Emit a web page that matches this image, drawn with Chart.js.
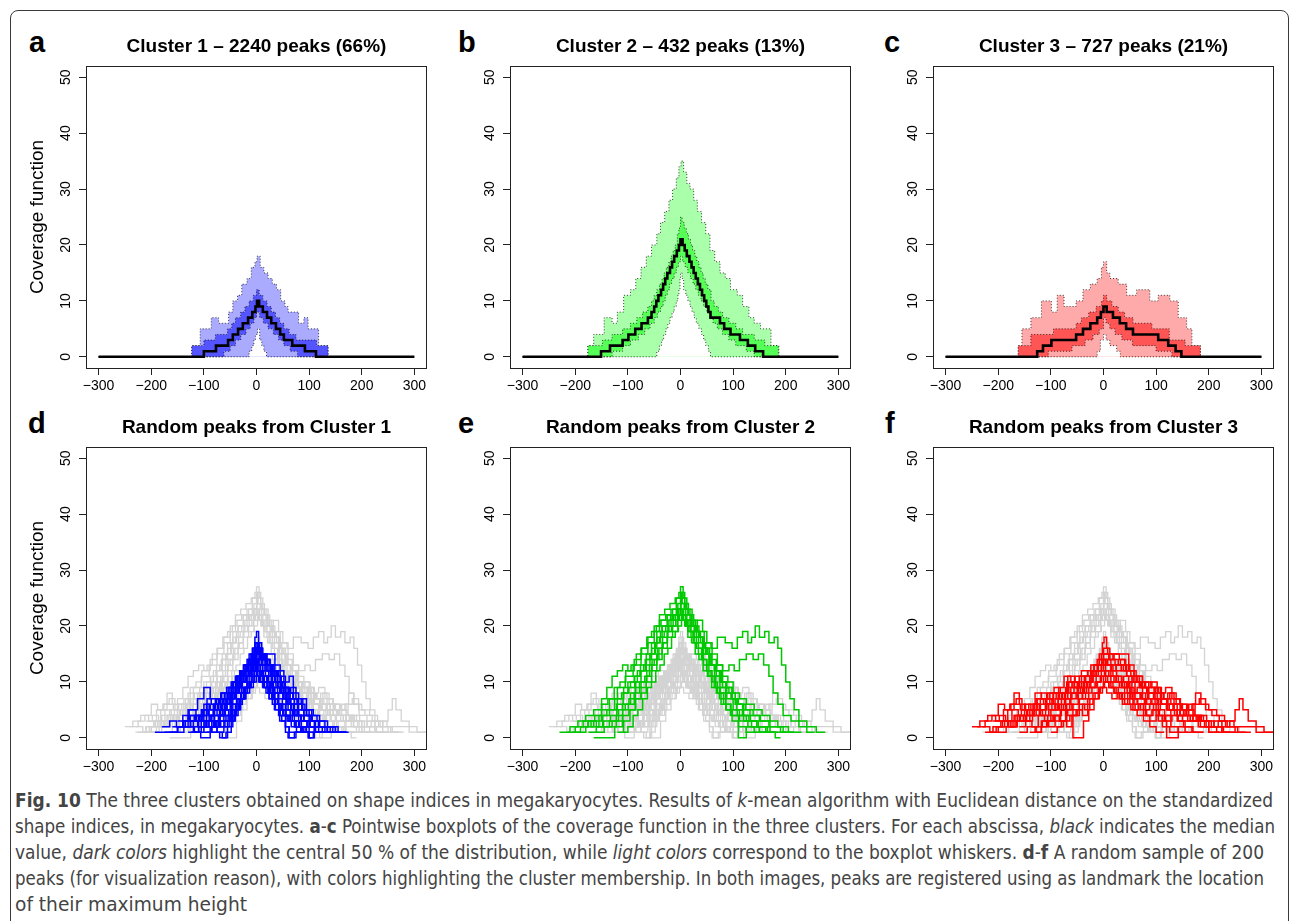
<!DOCTYPE html>
<html>
<head>
<meta charset="utf-8">
<script src="https://cdn.jsdelivr.net/npm/chart.js@4.4.1/dist/chart.umd.min.js"></script>
<style>
body { margin: 0; background: #fff; width: 1290px; height: 921px; overflow: hidden; position: relative; font-family: "Liberation Sans", Arial, sans-serif; }
#frame { position: absolute; left: 10px; top: 10px; width: 1277px; height: 980px; border: 1px solid #3a3a3a; border-radius: 8px; }
canvas { position: absolute; }
.letter { position: absolute; font-weight: bold; font-size: 29px; line-height: 29px; color: #000; }
#caption { position: absolute; left: 15px; top: 787px; font-family: "Liberation Sans Narrow", "DejaVu Sans Condensed", sans-serif; font-size: 20px; line-height: 26px; color: #444; }
.cl { display: block; white-space: nowrap; transform-origin: 0 0; width: max-content; }
</style>
</head>
<body>
<div id="frame"></div>

<div class="letter" style="left:29px;top:28px">a</div>
<div class="letter" style="left:458px;top:28px">b</div>
<div class="letter" style="left:884px;top:28px">c</div>
<div class="letter" style="left:28px;top:409px">d</div>
<div class="letter" style="left:458px;top:409px">e</div>
<div class="letter" style="left:885px;top:409px">f</div>

<div id="caption">
<span class="cl"><b>Fig. 10</b> The three clusters obtained on shape indices in megakaryocytes. Results of <i>k</i>-mean algorithm with Euclidean distance on the standardized</span>
<span class="cl">shape indices, in megakaryocytes. <b>a</b>-<b>c</b> Pointwise boxplots of the coverage function in the three clusters. For each abscissa, <i>black</i> indicates the median</span>
<span class="cl">value, <i>dark colors</i> highlight the central 50 % of the distribution, while <i>light colors</i> correspond to the boxplot whiskers. <b>d</b>-<b>f</b> A random sample of 200</span>
<span class="cl">peaks (for visualization reason), with colors highlighting the cluster membership. In both images, peaks are registered using as landmark the location</span>
<span class="cl">of their maximum height</span>
</div>

<script>
// TICKS / TITLES
const xTicks = [-300, -200, -100, 0, 100, 200, 300];
const xTickLabels = ["\u2212300", "\u2212200", "\u2212100", "0", "100", "200", "300"];
const yTicks = [0, 10, 20, 30, 40, 50];
const topTitles = ["Cluster 1 \u2013 2240 peaks (66%)", "Cluster 2 \u2013 432 peaks (13%)", "Cluster 3 \u2013 727 peaks (21%)"];
const bottomTitles = ["Random peaks from Cluster 1", "Random peaks from Cluster 2", "Random peaks from Cluster 3"];
const yTitle = "Coverage function";

// POINTWISE BOXPLOTS  [x where the step starts, value]
const aUpper = [[-300,0],[-123,2],[-107,5],[-86,7],[-72,6],[-53,8],[-45,10],[-36,11],[-28,13],[-18,14],[-10,16],[-3,17],[1,18],[7,16],[14,15],[22,14],[30,13],[38,12],[46,10],[54,9],[60,8],[80,6],[90,7],[98,5],[118,2],[136,0],[300,0]];
const aQ3 = [[-300,0],[-123,2],[-100,3],[-78,4],[-55,5],[-47,6],[-40,7],[-30,8],[-22,9],[-14,10],[-6,11],[0,12],[5,11],[12,10],[20,9],[28,8],[36,7],[44,6],[52,5],[62,4],[75,3],[114,2],[136,0],[300,0]];
const aQ1 = [[-300,0],[-62,1],[-50,2],[-40,3],[-30,4],[-20,5],[-12,6],[-5,7],[0,8],[6,7],[13,6],[22,5],[32,4],[42,3],[52,2],[64,1],[78,0],[300,0]];
const aLower = [[-300,0],[-14,1],[-9,2],[-5,3],[-2,4],[2,5],[6,3],[10,2],[14,1],[19,0],[300,0]];
const aMedian = [[-300,0],[-100,1],[-77,2],[-54,3],[-45,4],[-35,5],[-26,6],[-16,7],[-8,8],[-2,9],[1,10],[5,9],[12,8],[20,7],[28,6],[37,5],[45,4],[52,3],[68,2],[92,1],[113,0],[300,0]];

const bUpper = [[-300,0],[-176,2],[-165,4],[-145,7],[-130,6],[-120,8],[-108,11],[-95,12],[-85,14],[-75,16],[-65,18],[-55,20],[-45,22],[-38,24],[-30,26],[-22,28],[-15,30],[-8,32],[-3,34],[1,35],[6,33],[12,31],[18,30],[25,28],[32,26],[40,24],[48,22],[56,19],[65,17],[75,15],[85,14],[95,12],[108,11],[118,9],[130,7],[140,6],[152,5],[172,2],[187,0],[300,0]];
const bQ3 = [[-300,0],[-176,2],[-148,3],[-130,4],[-110,5],[-95,6],[-83,7],[-72,8],[-62,9],[-55,10],[-50,11],[-45,12],[-40,13],[-35,14],[-31,15],[-27,16],[-22,17],[-18,18],[-14,19],[-10,20],[-6,22],[-3,23],[0,25],[3,24],[7,23],[11,22],[15,21],[19,20],[23,19],[27,18],[31,17],[35,16],[39,15],[43,14],[47,13],[52,12],[58,10],[64,9],[72,8],[80,7],[92,6],[105,5],[118,4],[140,3],[160,2],[186,0],[300,0]];
const bQ1 = [[-300,0],[-130,1],[-110,2],[-95,3],[-80,4],[-68,5],[-58,6],[-50,7],[-44,8],[-38,9],[-33,10],[-29,11],[-25,12],[-21,13],[-17,14],[-12,15],[-8,16],[-4,17],[0,18],[4,17],[9,16],[14,15],[19,14],[24,13],[29,12],[34,11],[39,10],[44,9],[50,8],[56,7],[62,6],[70,5],[80,4],[92,3],[105,2],[125,1],[140,0],[300,0]];
const bLower = [[-300,0],[-45,1],[-40,2],[-36,3],[-32,4],[-28,5],[-24,6],[-20,7],[-16,8],[-12,9],[-8,10],[-5,11],[-3,12],[-1,14],[0,15],[3,14],[6,12],[10,11],[14,10],[18,9],[22,8],[26,7],[30,6],[35,5],[40,4],[44,3],[48,2],[53,1],[57,0],[300,0]];
const bMedian = [[-300,0],[-151,1],[-134,2],[-110,3],[-99,4],[-86,5],[-74,6],[-62,7],[-55,8],[-50,9],[-46,10],[-42,11],[-37,12],[-33,13],[-29,14],[-25,15],[-20,16],[-16,17],[-12,18],[-7,19],[-3,20],[0,21],[4,20],[8,19],[12,18],[17,17],[21,16],[25,15],[29,14],[33,13],[37,12],[41,11],[45,10],[49,9],[53,8],[57,7],[75,6],[83,5],[95,4],[113,3],[128,2],[142,1],[157,0],[300,0]];

const cUpper = [[-300,0],[-162,2],[-155,5],[-138,7],[-118,10],[-99,8],[-88,11],[-75,9],[-52,10],[-39,12],[-25,13],[-12,14],[-4,16],[0,17],[6,15],[12,14],[28,13],[44,11],[63,12],[88,10],[104,11],[126,10],[142,7],[158,5],[168,2],[184,0],[300,0]];
const cQ3 = [[-300,0],[-162,2],[-138,4],[-95,5],[-52,6],[-42,7],[-28,8],[-14,9],[-4,10],[0,11],[6,10],[16,9],[28,8],[40,7],[56,6],[92,5],[125,3],[155,2],[184,0],[300,0]];
const cQ1 = [[-300,0],[-105,1],[-60,2],[-35,3],[-20,4],[-8,5],[0,7],[5,6],[12,5],[22,4],[35,3],[55,2],[100,1],[130,0],[300,0]];
const cLower = [[-300,0],[-12,1],[-6,3],[0,4],[5,3],[12,2],[25,1],[32,0],[300,0]];
const cMedian = [[-300,0],[-126,1],[-115,2],[-99,3],[-52,4],[-39,5],[-25,6],[-12,7],[-5,8],[0,9],[6,8],[18,7],[31,6],[43,5],[56,4],[104,3],[123,2],[137,1],[148,0],[300,0]];

// RANDOM PEAKS (same sample in d, e, f)
const cluster1Peaks = [
  [[-193,1],[-150,2],[-140,3],[-120,2],[-105,4],[-95,6],[-88,5],[-75,4],[-60,6],[-45,8],[-35,10],[-25,12],[-15,14],[-8,16],[-3,18],[0,19],[4,17],[10,15],[18,13],[28,11],[40,9],[52,7],[65,5],[80,3],[100,2],[130,1],[175,1]],
  [[-150,3],[-130,5],[-112,7],[-100,9],[-88,7],[-72,5],[-60,7],[-48,9],[-38,11],[-28,12],[-18,13],[-10,15],[-2,17],[3,15],[12,13],[22,12],[35,10],[48,8],[58,6],[72,4],[90,3],[110,2],[140,1],[165,1]],
  [[-130,1],[-110,2],[-90,3],[-75,1],[-65,0],[-55,2],[-45,4],[-35,7],[-25,9],[-18,11],[-10,13],[-4,15],[30,15],[35,13],[45,11],[55,9],[62,6],[70,4],[85,2],[100,0],[108,1],[130,1]],
  [[-140,2],[-125,3],[-108,4],[-95,3],[-80,5],[-68,6],[-55,8],[-45,10],[-35,11],[-25,13],[-15,14],[-5,16],[2,15],[10,14],[20,12],[30,11],[42,12],[52,10],[62,11],[70,8],[80,6],[92,5],[105,3],[118,2],[150,1],[170,1]],
  [[-120,1],[-100,2],[-85,1],[-70,0],[-58,1],[-48,3],[-40,5],[-30,7],[-22,9],[-14,11],[-7,12],[0,13],[7,11],[15,10],[25,8],[35,6],[45,4],[55,2],[62,0],[72,1],[90,2],[110,1],[140,1]],
  [[-175,1],[-150,2],[-135,3],[-118,4],[-100,3],[-85,4],[-70,5],[-58,6],[-48,8],[-38,9],[-28,11],[-18,12],[-8,14],[0,16],[8,14],[18,12],[28,10],[40,9],[52,7],[65,6],[78,5],[90,4],[102,3],[120,2],[150,1],[172,1]],
  [[-110,2],[-95,3],[-82,2],[-70,4],[-60,5],[-50,7],[-42,8],[-32,10],[-22,12],[-12,13],[-5,14],[2,12],[12,11],[22,10],[32,8],[42,6],[55,5],[68,3],[80,2],[95,1],[120,1]],
  [[-160,2],[-140,3],[-128,5],[-115,4],[-100,6],[-90,5],[-78,7],[-65,6],[-52,8],[-40,9],[-30,11],[-20,13],[-10,15],[-3,17],[3,16],[10,15],[20,13],[30,12],[40,10],[50,9],[60,7],[72,6],[85,7],[95,5],[108,4],[120,3],[135,2],[155,1],[170,1]],
  [[-90,1],[-75,2],[-60,3],[-50,5],[-40,6],[-30,8],[-20,9],[-12,10],[-4,11],[4,10],[14,9],[24,7],[34,5],[44,3],[55,1],[60,0],[68,0],[75,1],[95,1]],
  [[-145,2],[-130,4],[-118,3],[-105,5],[-92,4],[-80,6],[-68,8],[-58,7],[-48,9],[-38,10],[-28,12],[-18,14],[-10,15],[-2,16],[5,15],[15,14],[25,13],[35,11],[45,9],[55,8],[65,9],[75,7],[88,5],[100,4],[115,3],[130,2],[145,1],[160,1]],
  [[-100,1],[-85,2],[-72,3],[-62,4],[-52,3],[-42,5],[-32,7],[-22,9],[-12,10],[-4,12],[2,11],[12,10],[22,8],[32,7],[42,5],[52,4],[62,3],[75,2],[88,1],[100,0],[110,1],[125,1]],
  [[-125,1],[-110,3],[-98,2],[-85,3],[-72,4],[-60,6],[-50,7],[-40,9],[-30,10],[-20,11],[-10,12],[-2,14],[4,13],[12,11],[20,10],[30,9],[40,8],[50,7],[60,5],[72,4],[84,3],[96,2],[112,1],[140,1]],
  [[-80,2],[-68,3],[-58,4],[-48,6],[-38,8],[-28,9],[-18,11],[-10,12],[-3,14],[3,12],[10,11],[20,9],[30,7],[40,6],[50,4],[60,3],[72,2],[85,1],[100,1]],
  [[-135,2],[-120,1],[-105,2],[-92,3],[-80,4],[-68,5],[-56,7],[-45,8],[-35,10],[-25,11],[-15,13],[-6,14],[0,15],[6,14],[16,13],[26,11],[36,10],[46,8],[56,6],[66,5],[78,4],[90,3],[102,2],[118,1],[135,1]],
  [[-150,1],[-138,2],[-126,3],[-112,2],[-100,3],[-90,4],[-82,6],[-74,5],[-66,6],[-58,7],[-50,8],[-43,9],[-36,10],[-29,11],[-22,12],[-15,13],[-8,14],[-2,15],[3,14],[9,13],[16,12],[23,11],[30,10],[37,9],[44,8],[51,7],[58,6],[66,5],[75,4],[85,3],[96,2],[110,1],[128,1]],
  [[-70,1],[-62,2],[-55,3],[-48,4],[-41,5],[-34,6],[-27,7],[-20,8],[-13,9],[-6,10],[0,11],[6,10],[12,9],[18,8],[24,7],[30,6],[36,5],[42,4],[48,3],[55,2],[62,1],[78,1]],
  [[-180,2],[-165,3],[-152,2],[-140,4],[-128,3],[-116,4],[-104,5],[-94,7],[-86,6],[-76,7],[-66,8],[-57,9],[-48,10],[-40,11],[-32,12],[-24,13],[-16,14],[-9,15],[-3,16],[2,17],[6,16],[12,15],[19,14],[26,13],[33,12],[40,11],[47,10],[54,9],[62,8],[70,7],[78,6],[86,5],[95,4],[105,3],[118,2],[135,1],[160,1]],
  [[-105,2],[-96,3],[-88,4],[-80,3],[-72,4],[-64,5],[-56,6],[-48,7],[-41,8],[-34,9],[-27,10],[-20,11],[-13,12],[-6,13],[0,14],[5,13],[11,12],[17,11],[23,10],[29,9],[35,8],[42,7],[49,6],[56,5],[64,4],[72,3],[82,2],[94,1],[108,1]],
  [[-130,2],[-118,1],[-106,0],[-96,0],[-88,2],[-80,3],[-72,4],[-64,6],[-56,7],[-48,8],[-40,10],[-32,11],[-25,12],[-18,13],[-11,14],[-4,15],[2,16],[7,15],[13,14],[20,13],[27,12],[34,10],[41,9],[48,8],[56,7],[64,6],[72,5],[80,4],[90,3],[100,2],[112,1],[130,1]],
  [[-60,2],[-52,3],[-45,4],[-38,6],[-31,7],[-24,8],[-17,9],[-10,10],[-4,12],[2,11],[8,10],[15,9],[22,8],[29,7],[36,6],[43,5],[50,4],[58,3],[66,2],[76,1],[90,1]],
  [[-165,1],[-150,2],[-138,3],[-126,4],[-114,3],[-102,5],[-92,4],[-82,5],[-72,6],[-63,7],[-54,9],[-46,10],[-38,11],[-30,12],[-22,13],[-14,15],[-7,16],[-1,17],[4,16],[10,15],[17,14],[24,13],[31,12],[38,11],[45,10],[53,9],[61,8],[69,7],[77,6],[86,5],[95,4],[106,3],[118,2],[134,1],[150,1]],
  [[-95,1],[-86,2],[-78,3],[-70,2],[-62,3],[-54,4],[-46,5],[-38,6],[-31,7],[-24,9],[-17,10],[-10,11],[-4,12],[2,13],[7,12],[13,11],[20,10],[27,9],[34,8],[41,6],[48,5],[56,4],[65,3],[75,2],[86,1],[98,0],[104,0]],
  [[-120,3],[-110,4],[-100,5],[-90,4],[-80,6],[-70,7],[-61,8],[-52,9],[-44,10],[-36,11],[-28,12],[-20,13],[-12,14],[-5,15],[1,16],[6,15],[12,14],[19,13],[26,12],[33,11],[40,10],[48,9],[56,8],[64,7],[72,6],[80,5],[90,4],[100,3],[112,2],[125,1],[142,1]],
  [[-85,2],[-77,3],[-69,4],[-61,5],[-53,4],[-45,6],[-37,7],[-29,8],[-21,9],[-14,10],[-7,11],[0,12],[6,11],[13,10],[20,9],[27,8],[34,7],[41,6],[48,5],[56,4],[64,3],[73,2],[84,1],[96,1]]
];
const cluster2Peaks = [
  [[-200,1],[-180,2],[-165,3],[-150,5],[-135,7],[-120,9],[-105,11],[-90,13],[-75,15],[-62,17],[-50,19],[-40,21],[-28,22],[-18,23],[-8,25],[0,27],[5,25],[12,23],[22,21],[32,19],[45,17],[58,16],[70,18],[85,17],[98,16],[108,18],[118,19],[128,17],[135,18],[142,20],[150,18],[160,19],[168,17],[178,18],[185,16],[192,13],[200,10],[208,7],[216,5],[225,3],[240,2],[258,1],[275,1]],
  [[-230,1],[-210,2],[-195,3],[-180,4],[-165,5],[-150,7],[-140,9],[-130,11],[-120,12],[-110,13],[-100,12],[-88,14],[-75,16],[-62,18],[-50,20],[-40,22],[-30,23],[-20,24],[-10,25],[-3,26],[3,24],[10,22],[20,20],[30,18],[42,16],[55,14],[68,13],[80,12],[92,13],[102,12],[112,14],[125,15],[138,14],[148,15],[158,13],[168,11],[176,8],[185,6],[195,4],[210,3],[225,2],[240,1],[255,1]],
  [[-160,1],[-145,2],[-130,3],[-118,5],[-105,6],[-95,8],[-85,10],[-75,12],[-65,14],[-55,16],[-45,18],[-35,20],[-25,22],[-15,23],[-5,24],[2,26],[8,24],[15,22],[25,20],[35,18],[45,16],[55,13],[65,11],[75,9],[88,7],[100,5],[112,4],[125,3],[145,2],[170,1],[200,1]],
  [[-190,2],[-175,3],[-160,2],[-148,4],[-135,5],[-120,7],[-108,9],[-95,10],[-82,12],[-70,13],[-58,15],[-48,17],[-38,19],[-28,20],[-18,22],[-8,23],[0,25],[8,23],[18,21],[28,19],[38,17],[48,15],[58,13],[68,11],[80,9],[92,8],[104,6],[118,5],[132,4],[150,3],[170,2],[195,1],[215,1]],
  [[-165,0],[-150,0],[-125,2],[-110,4],[-98,5],[-86,7],[-75,9],[-65,11],[-55,13],[-45,15],[-35,17],[-25,19],[-15,20],[-6,22],[0,23],[6,21],[14,19],[24,17],[34,15],[44,13],[54,11],[64,9],[74,7],[86,5],[98,4],[112,3],[128,2],[150,1],[180,0],[190,0]],
  [[-120,1],[-108,3],[-96,5],[-85,7],[-75,8],[-65,10],[-55,12],[-45,14],[-35,16],[-25,18],[-15,19],[-5,21],[2,22],[10,20],[20,18],[30,16],[40,14],[50,12],[60,10],[70,8],[82,6],[95,4],[110,0],[125,2],[140,1],[165,1]],
  [[-215,1],[-200,2],[-185,3],[-170,2],[-155,4],[-140,5],[-125,7],[-112,8],[-100,10],[-88,11],[-76,13],[-65,15],[-55,17],[-45,19],[-35,20],[-25,21],[-15,22],[-5,23],[3,22],[12,21],[22,20],[32,21],[42,19],[50,17],[60,15],[70,13],[80,11],[90,10],[100,8],[112,7],[125,6],[140,5],[155,4],[170,3],[185,2],[205,1],[230,1]],
  [[-150,2],[-135,3],[-122,4],[-110,6],[-98,7],[-86,9],[-75,10],[-64,12],[-54,14],[-44,16],[-34,18],[-24,20],[-14,21],[-4,22],[4,21],[14,19],[24,18],[34,17],[44,15],[54,13],[64,12],[74,10],[86,9],[98,7],[110,6],[124,5],[138,4],[152,3],[168,2],[190,1],[215,1]],
  [[-175,1],[-160,2],[-146,3],[-133,4],[-121,6],[-109,8],[-98,9],[-87,11],[-77,12],[-67,14],[-58,15],[-49,17],[-40,18],[-31,19],[-22,21],[-13,22],[-5,23],[1,24],[7,23],[14,22],[21,20],[28,19],[36,18],[44,16],[52,15],[60,13],[69,12],[78,10],[88,9],[98,7],[109,6],[120,4],[133,3],[148,2],[165,1],[185,1]],
  [[-135,2],[-122,3],[-110,5],[-99,6],[-88,8],[-78,10],[-68,11],[-59,13],[-50,14],[-41,16],[-33,17],[-25,19],[-17,20],[-9,21],[-2,22],[4,21],[11,20],[18,19],[26,17],[34,16],[42,14],[50,12],[58,11],[67,9],[76,8],[86,6],[96,5],[108,4],[120,3],[135,2],[150,1],[170,1]],
  [[-205,1],[-190,2],[-176,3],[-163,4],[-150,6],[-138,7],[-126,9],[-115,10],[-104,12],[-94,13],[-84,15],[-74,16],[-64,18],[-55,19],[-46,20],[-37,21],[-28,22],[-19,21],[-10,22],[-3,23],[3,22],[10,21],[18,20],[26,19],[34,18],[42,16],[50,15],[58,13],[67,12],[76,10],[86,8],[96,7],[107,5],[118,4],[130,3],[145,2],[162,1],[180,1]],
  [[-110,1],[-100,2],[-90,4],[-81,5],[-72,7],[-63,9],[-55,10],[-47,12],[-39,13],[-31,15],[-24,16],[-17,18],[-10,19],[-4,20],[2,21],[8,20],[14,18],[21,17],[28,15],[35,14],[43,12],[51,11],[59,9],[68,8],[77,6],[87,5],[98,3],[110,2],[125,1],[145,1]]
];
const cluster3Peaks = [
  [[-250,2],[-235,3],[-220,4],[-205,3],[-190,5],[-178,6],[-170,8],[-160,6],[-148,5],[-135,4],[-120,6],[-105,5],[-92,7],[-80,8],[-68,11],[-55,9],[-42,11],[-30,12],[-18,13],[-8,15],[-2,17],[1,18],[6,16],[12,15],[40,15],[48,12],[58,10],[70,9],[82,8],[95,7],[110,6],[125,5],[140,4],[155,5],[168,6],[175,8],[185,6],[200,5],[215,4],[230,3],[248,2],[290,1],[324,1]],
  [[-225,1],[-210,2],[-195,3],[-182,5],[-170,6],[-158,5],[-145,4],[-132,6],[-120,7],[-108,6],[-95,8],[-85,9],[-75,11],[-62,10],[-50,9],[-38,10],[-26,11],[-14,12],[-4,13],[4,14],[14,13],[24,12],[34,13],[44,11],[56,10],[68,9],[80,10],[92,9],[104,8],[118,9],[130,7],[145,6],[160,5],[172,4],[185,3],[200,2],[225,1],[240,1]],
  [[-200,1],[-185,2],[-172,3],[-160,4],[-148,3],[-135,5],[-122,4],[-110,6],[-98,5],[-86,7],[-74,6],[-62,8],[-50,7],[-40,9],[-30,10],[-20,12],[-10,13],[-3,14],[5,13],[15,12],[25,11],[35,10],[45,8],[55,7],[65,6],[78,7],[90,6],[102,8],[115,7],[128,6],[140,5],[152,4],[165,3],[180,2],[200,1],[220,1]],
  [[-140,1],[-128,2],[-116,3],[-104,2],[-92,4],[-80,5],[-68,4],[-58,0],[-45,0],[-38,3],[-28,5],[-18,7],[-8,9],[0,11],[8,10],[18,9],[28,8],[40,9],[52,7],[64,6],[76,5],[88,6],[100,4],[112,3],[120,0],[135,0],[142,2],[155,1],[175,1]],
  [[-180,2],[-165,3],[-152,4],[-140,5],[-128,7],[-118,8],[-108,7],[-96,6],[-84,5],[-72,7],[-60,8],[-48,10],[-36,11],[-24,13],[-12,14],[-4,15],[12,14],[22,13],[32,14],[42,12],[52,11],[62,10],[72,9],[84,8],[96,7],[108,6],[120,5],[134,6],[148,5],[162,4],[176,3],[192,2],[215,1],[240,1]],
  [[-160,1],[-145,2],[-130,1],[-118,3],[-106,4],[-94,3],[-82,5],[-70,6],[-58,5],[-46,7],[-34,8],[-22,9],[-12,10],[-4,11],[4,10],[14,9],[24,8],[34,7],[46,8],[58,6],[70,5],[82,4],[94,5],[106,4],[118,3],[130,4],[142,3],[155,2],[170,1],[190,1]],
  [[-120,2],[-108,3],[-96,4],[-84,3],[-72,5],[-60,6],[-48,8],[-36,9],[-24,11],[-14,12],[-4,13],[4,12],[14,11],[24,10],[36,9],[48,10],[60,8],[72,7],[84,8],[96,9],[108,7],[120,6],[132,5],[145,4],[160,3],[178,4],[190,3],[205,2],[225,1],[250,1]],
  [[-215,1],[-200,2],[-188,3],[-176,2],[-164,4],[-152,3],[-140,4],[-128,5],[-116,4],[-104,6],[-92,5],[-80,7],[-68,8],[-56,9],[-44,8],[-32,10],[-20,11],[-10,12],[0,14],[8,13],[18,11],[28,10],[38,11],[48,9],[58,8],[70,7],[82,6],[95,5],[108,6],[120,5],[135,4],[150,3],[165,4],[180,3],[195,2],[210,3],[225,2],[240,3],[250,5],[258,7],[265,5],[275,3],[290,2],[305,1],[324,1]],
  [[-100,1],[-88,2],[-76,3],[-64,4],[-52,5],[-40,6],[-30,7],[-20,8],[-10,9],[0,10],[10,9],[20,8],[30,7],[40,6],[52,5],[64,4],[76,3],[88,2],[100,1],[115,1]],
  [[-240,2],[-225,3],[-212,4],[-200,6],[-188,5],[-176,6],[-166,7],[-155,5],[-142,6],[-130,8],[-118,7],[-106,8],[-94,9],[-82,8],[-70,10],[-58,9],[-46,11],[-34,10],[-22,12],[-10,13],[0,15],[10,14],[20,15],[30,14],[40,13],[50,12],[62,11],[74,10],[86,9],[98,8],[110,7],[122,8],[134,7],[146,6],[158,5],[170,6],[182,7],[194,5],[206,4],[220,3],[235,2],[255,1],[280,1]],
  [[-195,2],[-182,3],[-170,4],[-158,3],[-146,5],[-134,6],[-122,5],[-110,7],[-98,6],[-86,8],[-74,7],[-62,9],[-50,8],[-38,10],[-26,9],[-14,11],[-4,12],[4,11],[14,10],[24,11],[34,9],[44,10],[54,8],[64,9],[74,7],[86,8],[98,6],[110,7],[122,5],[134,6],[146,4],[158,5],[170,3],[184,2],[200,1],[220,1]],
  [[-160,2],[-148,3],[-136,2],[-124,4],[-112,3],[-100,5],[-88,6],[-76,5],[-64,7],[-52,8],[-40,7],[-28,9],[-16,10],[-6,11],[2,12],[10,11],[20,10],[30,9],[40,10],[50,8],[60,7],[70,8],[80,6],[92,7],[104,5],[116,4],[128,5],[140,3],[152,2],[168,1],[190,1]],
  [[-230,2],[-216,1],[-204,2],[-192,3],[-180,2],[-168,4],[-156,5],[-144,4],[-132,6],[-120,5],[-108,7],[-96,8],[-84,7],[-72,9],[-60,10],[-48,9],[-36,11],[-24,12],[-12,13],[-3,14],[4,13],[14,12],[24,13],[34,12],[44,11],[54,10],[64,11],[74,9],[86,8],[98,9],[110,7],[122,6],[134,7],[146,5],[158,4],[170,3],[182,4],[196,3],[210,2],[228,1],[250,1]],
  [[-130,1],[-118,2],[-106,3],[-94,4],[-82,3],[-70,5],[-58,4],[-46,6],[-36,5],[-26,7],[-16,8],[-6,9],[2,10],[10,9],[20,8],[30,7],[40,8],[50,6],[60,5],[70,6],[80,4],[92,5],[104,3],[116,4],[128,2],[142,1],[160,1]],
  [[-210,3],[-198,4],[-186,3],[-174,5],[-162,4],[-150,6],[-138,5],[-126,7],[-114,6],[-102,8],[-90,7],[-78,8],[-66,10],[-54,11],[-42,12],[-30,11],[-18,13],[-8,14],[0,16],[8,15],[18,14],[28,13],[38,12],[48,13],[58,11],[68,10],[78,9],[90,10],[102,8],[114,7],[126,8],[138,6],[150,5],[162,6],[174,4],[186,3],[200,2],[218,3],[232,2],[250,1],[270,1]],
  [[-90,2],[-80,3],[-70,2],[-60,4],[-50,5],[-40,4],[-30,6],[-20,7],[-10,8],[-2,9],[6,8],[16,7],[26,8],[36,6],[46,7],[56,5],[66,6],[76,4],[88,3],[100,4],[112,2],[126,1],[145,1]]
];

// COLOURS
const lightFill = ["rgb(170,170,255)", "rgb(170,255,170)", "rgb(255,170,170)"];
const darkFill = ["rgb(85,85,255)", "rgb(85,255,85)", "rgb(255,85,85)"];
const peakColor = ["#0000ff", "#00c800", "#ff0000"];
const grey = "#d3d3d3";

// LAYOUT
const FONT = '"Liberation Sans", Arial, Helvetica, sans-serif';
const BOX_W = 341, BOX_H = 302, AXIS_W = 80, TITLE_H = 50, AXIS_H = 40, PAD_R = 10;
const colLeft = [86, 510, 933];
const rowTop = [66, 447];

const boxPlugin = {
    id: "box",
    afterDraw(chart) {
        const a = chart.chartArea, ctx = chart.ctx;
        ctx.save();
        ctx.strokeStyle = "#222";
        ctx.lineWidth = 1;
        ctx.strokeRect(Math.round(a.left) + 0.5, Math.round(a.top) + 0.5,
            Math.round(a.right - a.left) - 1, Math.round(a.bottom - a.top));
        ctx.restore();
    }
};

function makeCanvas(left, top) {
    const c = document.createElement("canvas");
    c.width = AXIS_W + BOX_W + PAD_R;
    c.height = TITLE_H + BOX_H + AXIS_H;
    c.style.width = c.width + "px";
    c.style.height = c.height + "px";
    c.style.left = (left - AXIS_W) + "px";
    c.style.top = (top - TITLE_H) + "px";
    document.body.appendChild(c);
    return c;
}

function xy(pairs) { return pairs.map(p => ({ x: p[0], y: p[1] })); }

function options(title, withYTitle) {
    const tickGrid = { display: true, drawOnChartArea: false, drawTicks: true, tickLength: 7, color: "#222", lineWidth: 1 };
    return {
        responsive: false, animation: false, events: [],
        layout: { padding: { top: 0, left: 0, right: PAD_R, bottom: 0 } },
        plugins: {
            legend: { display: false },
            tooltip: { enabled: false },
            title: {
                display: true, text: title, fullSize: false, color: "#000",
                font: { family: FONT, size: 19, weight: "bold" },
                padding: { top: 19.3, bottom: 7.9 }
            }
        },
        scales: {
            x: {
                type: "linear", min: -324, max: 324,
                afterBuildTicks: s => { s.ticks = xTicks.map(v => ({ value: v })); },
                afterFit: s => { s.height = AXIS_H; },
                grid: tickGrid,
                border: { display: false },
                ticks: {
                    color: "#000", font: { family: FONT, size: 14 }, padding: 3,
                    maxRotation: 0, autoSkip: false,
                    callback: v => xTickLabels[xTicks.indexOf(v)]
                }
            },
            y: {
                type: "linear", min: -2, max: 52,
                afterBuildTicks: s => { s.ticks = yTicks.map(v => ({ value: v })); },
                afterFit: s => { s.width = AXIS_W; },
                grid: tickGrid,
                border: { display: false },
                ticks: {
                    color: "#000", font: { family: FONT, size: 14 }, padding: 5,
                    minRotation: 90, maxRotation: 90, crossAlign: "center", autoSkip: false,
                    callback: v => String(v)
                },
                title: {
                    display: withYTitle, text: yTitle, color: "#000",
                    font: { family: FONT, size: 19 }, padding: { top: 20, bottom: 0 }
                }
            }
        }
    };
}

function band(pairs, fill, order) {
    return {
        data: xy(pairs), stepped: "before", fill: "origin", backgroundColor: fill,
        borderColor: "rgba(0,0,0,0.75)", borderWidth: 1, borderDash: [1, 2],
        pointRadius: 0, order: order
    };
}

// TOP ROW: boxplots
const boxSets = [
    [aUpper, aQ3, aQ1, aLower, aMedian],
    [bUpper, bQ3, bQ1, bLower, bMedian],
    [cUpper, cQ3, cQ1, cLower, cMedian]
];
boxSets.forEach((s, i) => {
    const [up, q3, q1, low, med] = s;
    new Chart(makeCanvas(colLeft[i], rowTop[0]), {
        type: "line",
        data: {
            datasets: [
                { data: xy(med), stepped: "before", fill: false, borderColor: "#000", borderWidth: 2.6, pointRadius: 0, order: 0 },
                band(low, "#ffffff", 1),
                band(q1, lightFill[i], 2),
                band(q3, darkFill[i], 3),
                band(up, lightFill[i], 4)
            ]
        },
        options: options(topTitles[i], i === 0),
        plugins: [boxPlugin]
    });
});

// BOTTOM ROW: random peaks
const allPeaks = [cluster1Peaks, cluster2Peaks, cluster3Peaks];
[0, 1, 2].forEach(i => {
    const datasets = [];
    allPeaks.forEach((group, g) => {
        group.forEach(p => {
            datasets.push({
                data: xy(p), stepped: "before", fill: false,
                borderColor: g === i ? peakColor[i] : grey,
                borderWidth: g === i ? 1.5 : 1.3, pointRadius: 0, order: g === i ? 0 : 1
            });
        });
    });
    new Chart(makeCanvas(colLeft[i], rowTop[1]), {
        type: "line",
        data: { datasets: datasets },
        options: options(bottomTitles[i], i === 0),
        plugins: [boxPlugin]
    });
});

// CAPTION: fit each line to the width it has in the figure
const captionWidths = [1258, 1260, 1249, 1249, 232];
document.querySelectorAll("#caption .cl").forEach((el, i) => {
    const w = el.getBoundingClientRect().width;
    el.style.transform = "scaleX(" + (captionWidths[i] / w) + ")";
});
</script>
</body>
</html>
